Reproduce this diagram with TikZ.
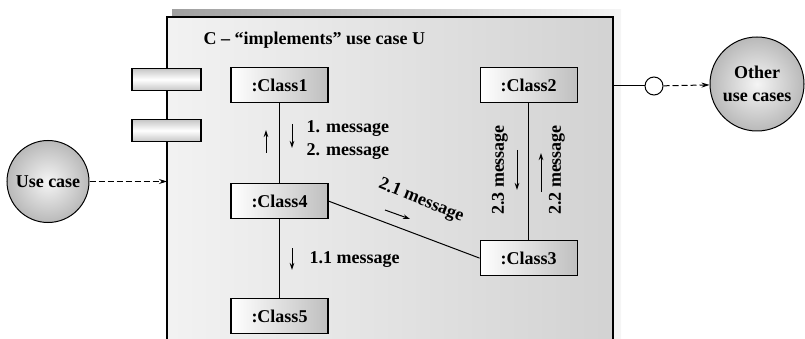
\documentclass[tikz,border=0pt]{standalone}
\usepackage{fontspec}
\setmainfont{Liberation Serif}
\usetikzlibrary{arrows.meta,positioning,shapes.geometric}

\begin{document}
\begin{tikzpicture}[
  x=1pt, y=-1pt,
  font=\fontsize{18}{23}\selectfont\bfseries,
  node distance=80pt and 151pt,
  cls/.style={draw, line width=1.1pt, minimum width=97pt, minimum height=35pt, inner sep=0pt, left color=white, right color=gray!50},
  port/.style={draw, line width=1.1pt, minimum width=69pt, minimum height=22pt, top color=gray!45, bottom color=gray!45, middle color=white},
  usecase/.style={circle, draw, line width=1pt, inner color=gray!8, outer color=gray!55, align=center, inner sep=0pt},
  msg/.style={-{Stealth[length=7pt,width=4.5pt]}, line width=1pt},
  dep/.style={dash pattern=on 6pt off 3pt, line width=1pt, -{Stealth[length=8pt,width=5pt]}}
]
\clip (0,0) rectangle (805,339);
% subsystem C with its shadow
\fill[left color=gray!75, right color=gray!8] (172,10) rectangle (621,350);
\node[draw, line width=1.1pt, outer sep=0pt, minimum width=446pt, minimum height=335pt, anchor=north west,
  left color=gray!10, right color=gray!35] (sys) at (167,17) {};
\node[anchor=west] (title) at (200,40) {C – “implements” use case U};
% interface ports
\node[port] (p1) at (166.5,79.5) {};
\node[port] (p2) at (166.5,130.5) {};
% objects
\node[cls] (c1) at (279.5,85) {:Class1};
\node[cls, below=of c1] (c4) {:Class4};
\node[cls, below=79pt of c4] (c5) {:Class5};
\node[cls, right=of c1] (c2) {:Class2};
\node[cls, below=137pt of c2] (c3) {:Class3};
\draw[line width=1pt] (c1) -- (c4);
\draw[line width=1pt] (c4) -- (c5);
\draw[line width=1pt] (c2) -- (c3);
\draw[line width=1pt] (c4.east) -- (c3.west);
% messages
\draw[msg] (266,153) -- (266,130);
\draw[msg] (292,124) -- (292,148);
\node[anchor=base west] (m1) at (303,133) {1. message};
\node[anchor=base west] (m2) at (303,156) {2. message};
\draw[msg] (292,248) -- (292,270);
\node[anchor=base west] (m11) at (306,263) {1.1 message};
\draw[msg] (385,210) -- (410,219);
\node[rotate=-22] (m21) at (421,201) {2.1 message};
\draw[msg] (517,150) -- (517,190);
\node[rotate=90] (m23) at (500,170) {2.3 message};
\draw[msg] (541,192) -- (541,153);
\node[rotate=90] (m22) at (557,170) {2.2 message};
% use cases
\node[usecase, minimum size=82pt] (uc) at (48,181.5) {Use case};
\draw[dep] (uc) -- (uc -| sys.west);
\node[circle, draw, line width=1pt, fill=white, minimum size=18pt, inner sep=0pt] (lolli) at (654,86) {};
\draw[line width=1pt] (lolli -| sys.east) -- (lolli);
\node[usecase, minimum size=94pt] (other) at (757,84) {Other\\use cases};
\draw[dep] (lolli) -- (other);
\end{tikzpicture}
\end{document}
